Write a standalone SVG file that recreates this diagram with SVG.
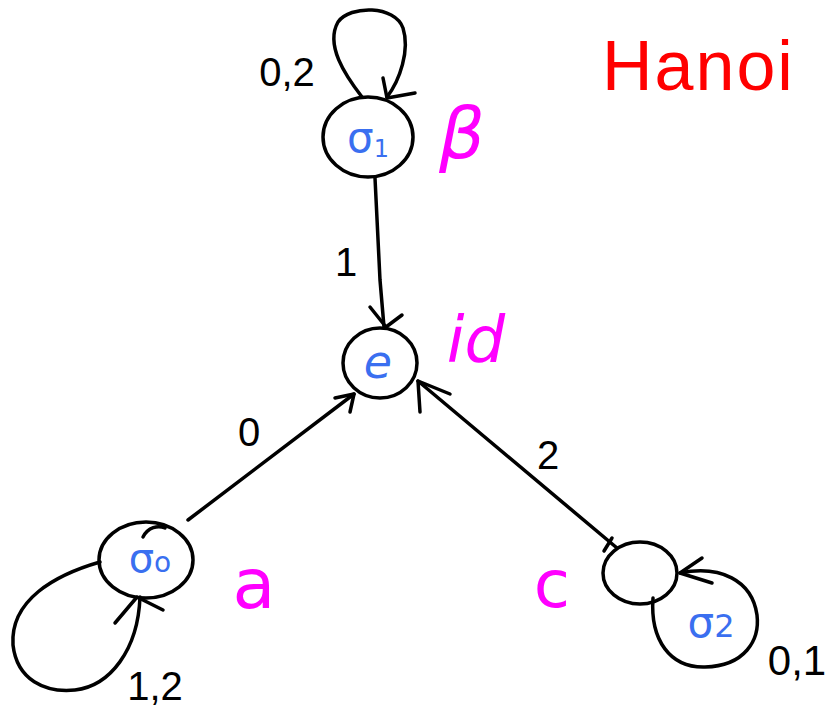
<svg xmlns="http://www.w3.org/2000/svg" width="831" height="713" viewBox="0 0 831 713">
<style>
.ln{fill:none;stroke:#000;stroke-width:3.5;stroke-linecap:round;stroke-linejoin:round}
.lbl{font-family:"Liberation Sans",sans-serif;fill:#000;text-anchor:middle}
.st{font-family:"DejaVu Sans",sans-serif;fill:#3a6ff0;text-anchor:middle}
.mg{font-family:"DejaVu Sans",sans-serif;fill:#ff00ff;text-anchor:middle}
</style>
<rect width="831" height="713" fill="#fff"/>
<g id="connectors">
  <path class="ln" d="M362,97 C345,75 325,45 338,22 C350,5 395,5 403,28 C410,50 400,80 387,97"/>
  <path class="ln" d="M383,78 L387,98 L415,93"/>
  <path class="ln" d="M375,178 L380,280 L384,327"/>
  <path class="ln" d="M370,307 L386,327 L402,315"/>
  <path class="ln" d="M188,520 L354,394"/>
  <path class="ln" d="M335,398 L354,394 L350,412"/>
  <path class="ln" d="M100,562 C55,575 10,600 13,645 C17,680 45,693 75,690 C110,686 138,650 140,597"/>
  <path class="ln" d="M115,623 L137,597 L163,610"/>
  <path class="ln" d="M418,381 L617,548"/>
  <path class="ln" d="M450,394 L418,381 L420,412"/>
  <path class="ln" d="M612,538 L604,551"/>
  <path class="ln" d="M653,598 C650,640 670,668 705,667 C745,666 760,640 757,615 C752,580 720,565 680,573"/>
  <path class="ln" d="M702,558 L680,573 L712,583"/>
</g>
<g id="node-sigma1">
  <ellipse class="ln" cx="368" cy="137" rx="45" ry="40"/>
  <text class="st" x="368" y="152" font-size="42">σ<tspan font-size="24" dy="5">1</tspan></text>
  <text class="lbl" x="287" y="86" font-size="40">0,2</text>
  <text class="mg" x="462" y="158" font-size="72" font-style="italic">β</text>
</g>
<g id="node-e">
  <ellipse class="ln" cx="380" cy="363" rx="37" ry="35"/>
  <text class="st" x="378" y="378" font-size="46" font-style="italic">e</text>
  <text class="mg" x="476" y="362" font-size="64" font-style="italic">id</text>
  <text class="lbl" x="346" y="276" font-size="40">1</text>
</g>
<g id="node-sigma0">
  <ellipse class="ln" cx="146" cy="560" rx="47" ry="38"/>
  <path class="ln" d="M143,537 C148,527 158,525 165,528"/>
  <text class="st" x="150" y="572" font-size="40">σ<tspan font-size="28">o</tspan></text>
  <text class="lbl" x="249" y="446" font-size="40">0</text>
  <text class="lbl" x="155" y="700" font-size="40">1,2</text>
  <text class="mg" x="254" y="608" font-size="70">a</text>
</g>
<g id="node-sigma2">
  <ellipse class="ln" cx="640" cy="573" rx="37" ry="31"/>
  <text class="st" x="711" y="637" font-size="42">σ<tspan font-size="32">2</tspan></text>
  <text class="lbl" x="797" y="675" font-size="42">0,1</text>
  <text class="lbl" x="548" y="469" font-size="40">2</text>
  <text class="mg" x="552" y="607" font-size="66">c</text>
</g>
<g id="title">
  <text x="602" y="90" font-family="Liberation Sans, sans-serif" font-size="70" fill="#ff0000" letter-spacing="2">Hanoi</text>
</g>
</svg>
